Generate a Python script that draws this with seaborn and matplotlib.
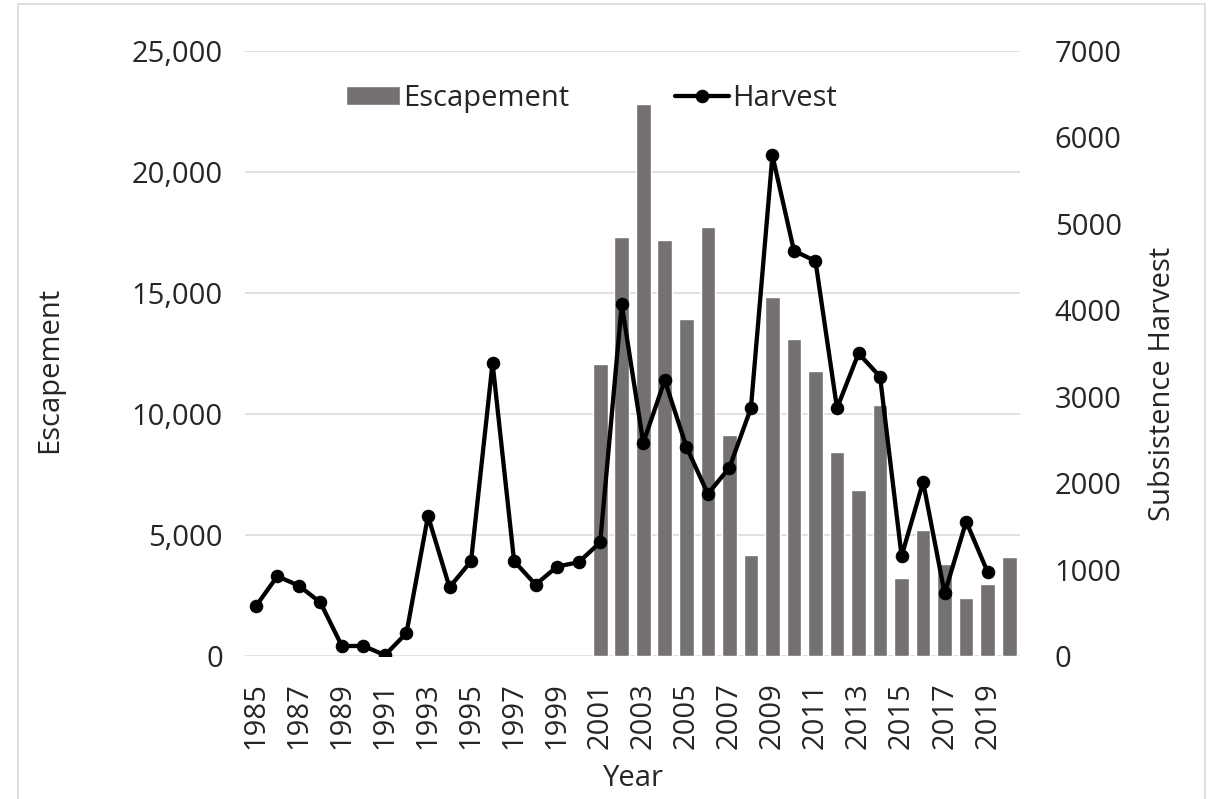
# Import libraries =============================================================
import numpy as np
import pandas as pd
import matplotlib
matplotlib.use('Agg')
import matplotlib.pyplot as plt
import seaborn as sns
from matplotlib.patches import Rectangle

# Data =========================================================================
years = list(range(1985, 2021))
escapement_years = list(range(2001, 2021))
escapement = [12060, 17330, 22810, 17180, 13940, 17710, 9140, 4190, 14840,
              13080, 11760, 8410, 6860, 10370, 3240, 5210, 3810, 2380, 2970,
              4100]
harvest_years = list(range(1985, 2020))
harvest = [574, 922, 814, 620, 116, 116, 10, 264, 1620, 795, 1097, 3391, 1097,
           826, 1035, 1085, 1315, 4067, 2467, 3191, 2422, 1876, 2178, 2867,
           5791, 4689, 4569, 2867, 3502, 3231, 1156, 2013, 724, 1556, 969]
left_ticks = [0, 5000, 10000, 15000, 20000, 25000]
right_ticks = list(range(0, 8000, 1000))
year_ticks = list(range(1985, 2020, 2))

esc_df = pd.DataFrame({'Year': escapement_years, 'Escapement': escapement})
har_df = pd.DataFrame({'Year': harvest_years, 'Harvest': harvest})

# Style ========================================================================
sns.set_style('white')
plt.rcParams['font.family'] = ['Open Sans', 'DejaVu Sans']
fs = 21
bar_color = '#767171'
grid_color = '#d9d9d9'
W, H = 1208, 799

fig = plt.figure(figsize=(W / 100, H / 100), dpi=100)
ax = fig.add_axes([245 / W, 1 - 656 / H, 775 / W, 605 / H])

# Bars (left axis) =============================================================
sns.barplot(data=esc_df, x='Year', y='Escapement', native_scale=True,
            color=bar_color, saturation=1, width=0.68, ax=ax,
            label='Escapement', zorder=2)
ax.set_ylim(0, 25000)
ax.set_yticks(left_ticks)
ax.set_yticklabels([f'{t:,}' for t in left_ticks], fontsize=fs)
ax.yaxis.grid(True, color=grid_color, lw=1.1, zorder=0)
ax.set_axisbelow(True)
ax.set_xlim(1984.5, 2020.5)
ax.set_xticks(year_ticks)
ax.set_xticklabels([str(y) for y in year_ticks], rotation=90, fontsize=fs)
ax.tick_params(axis='both', length=0)
ax.tick_params(axis='y', pad=16)
ax.tick_params(axis='x', pad=19)
ax.set_xlabel('')
ax.set_ylabel('')
for s in ax.spines.values():
    s.set_visible(False)

# Line (right axis) ============================================================
ax2 = ax.twinx()
sns.lineplot(data=har_df, x='Year', y='Harvest', color='black', lw=3.1,
             marker='o', markersize=9, markeredgecolor='black', ax=ax2,
             label='Harvest', zorder=3)
ax2.set_ylim(0, 7000)
ax2.set_yticks(right_ticks)
ax2.set_yticklabels([str(t) for t in right_ticks], fontsize=fs)
ax2.tick_params(axis='y', length=0, pad=25)
ax2.set_ylabel('')
ax2.grid(False)
for s in ax2.spines.values():
    s.set_visible(False)

# Axis titles ==================================================================
fig.text(50 / W, 1 - 370 / H, 'Escapement', rotation=90, fontsize=fs,
         ha='center', va='center')
fig.text(1163 / W, 1 - 384 / H, 'Subsistence Harvest', rotation=90,
         fontsize=fs, ha='center', va='center')
fig.text(633 / W, 1 - 778 / H, 'Year', fontsize=fs, ha='center', va='center')

# Legend =======================================================================
h1, l1 = ax.get_legend_handles_labels()
h2, l2 = ax2.get_legend_handles_labels()
if ax.get_legend():
    ax.get_legend().remove()
if ax2.get_legend():
    ax2.get_legend().remove()
ax2.legend(h1 + h2, l1 + l2, loc='center', bbox_to_anchor=(0.447, 0.922),
           ncol=2, frameon=False, fontsize=fs, handlelength=1.85,
           handleheight=0.66, handletextpad=0.12, columnspacing=3.6)

# Outer frame ==================================================================
fig.patches.append(Rectangle((18 / W, -0.05), 1187 / W, 1.05 - 4 / H,
                             transform=fig.transFigure, fill=False,
                             edgecolor=grid_color, lw=1.2))

fig.savefig('out.png', dpi=100)
